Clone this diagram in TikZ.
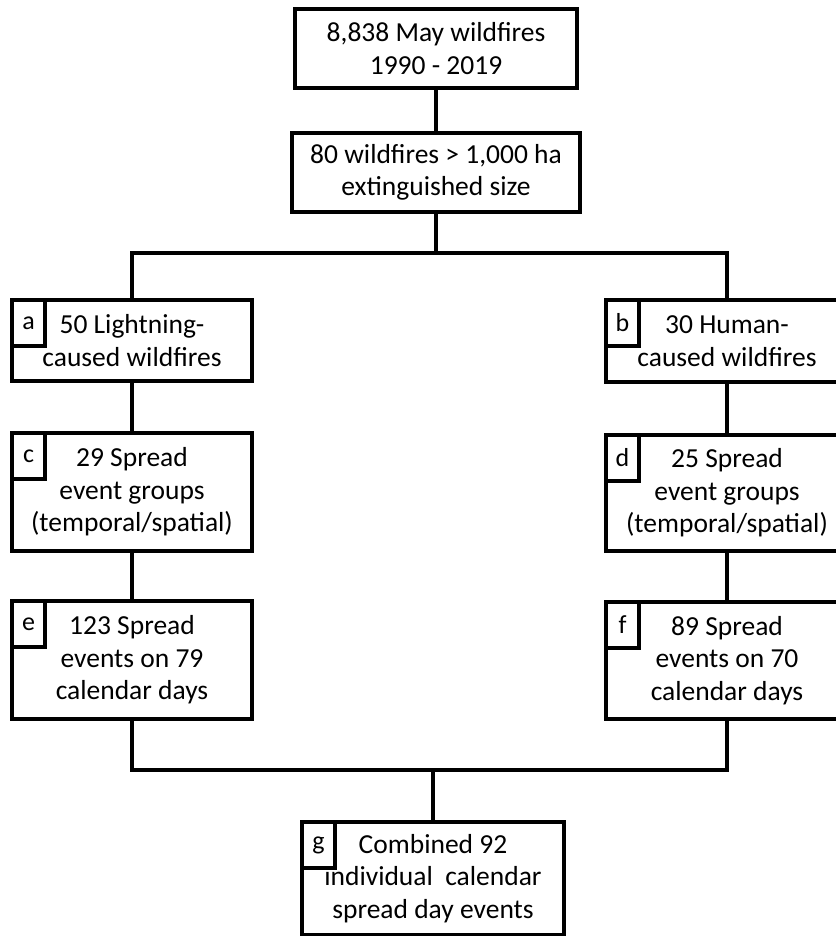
\documentclass[tikz,border=0pt]{standalone}
\usepackage{fontspec}
\setmainfont{Carlito}
\usetikzlibrary{positioning, calc}

\begin{document}
\begin{tikzpicture}[x=1pt, y=-1pt,
    block/.style={rectangle, draw, line width=3.2pt, inner sep=0pt, align=center, font=\fontsize{27.5}{32.5}\selectfont, minimum width=#1},
    block/.default=240pt,
    tag/.style={rectangle, draw, line width=3.2pt, inner sep=0pt, anchor=north west, minimum width=33pt, minimum height=46pt, font=\fontsize{26}{28}\selectfont},
    link/.style={line width=3.2pt},
]
\useasboundingbox (0,0) rectangle (835,936);

\node[block=282pt, minimum height=79pt] (all) at (436, 48.5) {8,838 May wildfires\\1990 - 2019};
\node[block=288pt, minimum height=79pt] (big) at (436, 172.5) {80 wildfires > 1,000 ha\\extinguished size};

\node[block, minimum height=81pt] (a) at (132, 340.5) {50 Lightning-\\caused wildfires};
\node[block, minimum height=118pt] (c) at (132, 492) {29 Spread\\event groups\\(temporal/spatial)};
\node[block, minimum height=118pt] (e) at (132, 660) {123 Spread\\events on 79\\calendar days};

\node[block=242pt, minimum height=82pt] (b) at (727, 341) {30 Human-\\caused wildfires};
\node[block=242pt, minimum height=116pt] (d) at (727, 493) {25 Spread\\event groups\\(temporal/spatial)};
\node[block=242pt, minimum height=117pt] (f) at (727, 660.5) {89 Spread\\events on 70\\calendar days};

\node[block=262pt, minimum height=113pt] (g) at (433, 878.5) {Combined 92\\individual~ calendar\\spread day events};

\node[tag] (ta) at (a.north west) {a};
\node[tag] (tc) at (c.north west) {c};
\node[tag] (te) at (e.north west) {e};
\node[tag] (tb) at (b.north west) {b};
\node[tag] (td) at (d.north west) {d};
\node[tag] (tf) at (f.north west) {f};
\node[tag] (tg) at (g.north west) {g};

\coordinate (split) at (436, 253);
\coordinate (merge) at (433, 770);
\draw[link] (all) -- (big);
\draw[link] (big) -- (split);
\draw[link] (a.north) |- (split) -| (b.north);
\draw[link] (a) -- (c); \draw[link] (c) -- (e);
\draw[link] (b) -- (d); \draw[link] (d) -- (f);
\draw[link] (e.south) |- (merge) -| (f.south);
\draw[link] (merge) -- (g);
\end{tikzpicture}
\end{document}
